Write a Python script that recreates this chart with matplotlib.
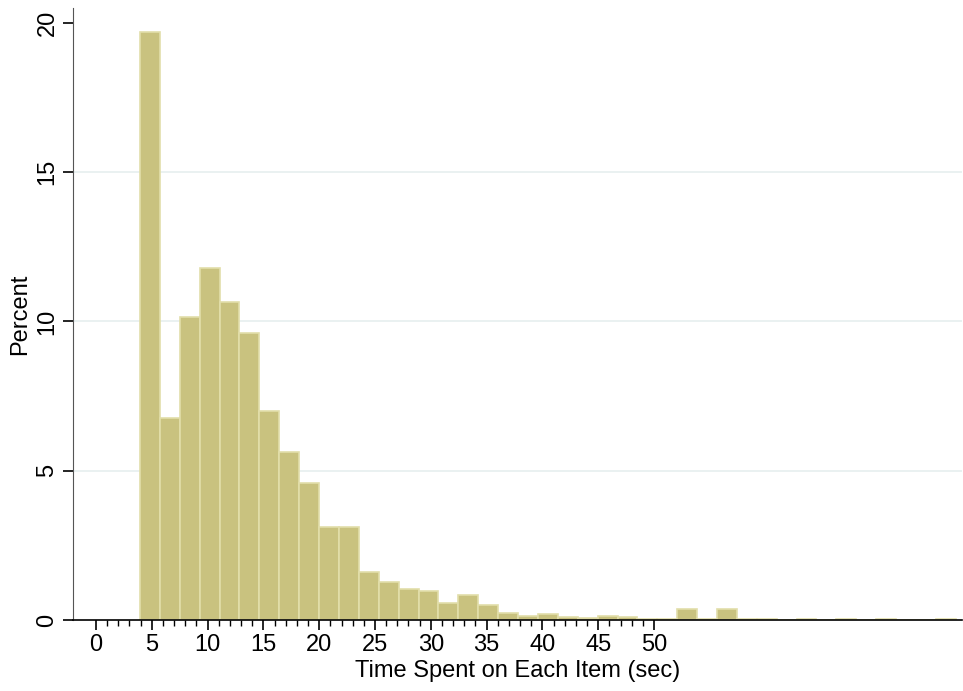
import numpy as np
import matplotlib
matplotlib.use("Agg")
import matplotlib.pyplot as plt

plt.rcParams["font.family"] = ["Liberation Sans", "DejaVu Sans"]

# Histogram bins (Stata style): 41 bins from ~3.94, width ~1.783
bin_start = 3.94
bin_width = 1.783
percent = [19.7, 6.75, 10.15, 11.8, 10.65, 9.6, 7.0, 5.62, 4.6, 3.13,
           3.13, 1.6, 1.27, 1.03, 0.97, 0.57, 0.85, 0.5, 0.25, 0.15,
           0.2, 0.1, 0.07, 0.13, 0.1, 0.05, 0.03, 0.38, 0.02, 0.38,
           0.03, 0.03, 0.0, 0.03, 0.0, 0.03, 0.0, 0.03, 0.0, 0.0, 0.03]
x_ticks = [0, 5, 10, 15, 20, 25, 30, 35, 40, 45, 50]
y_ticks = [0, 5, 10, 15, 20]

lefts = bin_start + bin_width * np.arange(len(percent))

fig = plt.figure(figsize=(9.63, 6.91), dpi=100)
ax = fig.add_axes([73 / 963, 1 - 620 / 691, (962 - 73) / 963, (620 - 8) / 691])

for y in [5, 10, 15]:
    ax.axhline(y, color="#e6efef", linewidth=1.2, zorder=0)

ax.bar(lefts, percent, width=bin_width, align="edge", color="#c9c27f",
       edgecolor="#e2deaa", linewidth=1.2, zorder=2)

ax.set_xlim(-2.06, 77.6)
ax.set_ylim(0, 20.5)
ax.set_xticks(x_ticks)
ax.set_xticks(np.arange(0, 51, 1), minor=True)
ax.set_yticks(y_ticks)
ax.tick_params(axis="x", which="major", length=7, labelsize=17, width=1.2, pad=3)
ax.tick_params(axis="x", which="minor", length=4, width=1)
ax.tick_params(axis="y", length=7, labelsize=17, width=1.2)
for lab in ax.get_yticklabels():
    lab.set_rotation(90)
    lab.set_va("center")

for s in ["top", "right"]:
    ax.spines[s].set_visible(False)
ax.spines["left"].set_color("#555555")
ax.spines["bottom"].set_linewidth(1.2)

ax.set_xlabel("Time Spent on Each Item (sec)", fontsize=17, labelpad=3)
ax.set_ylabel("Percent", fontsize=17, labelpad=4)

fig.savefig("out.png", dpi=100)
